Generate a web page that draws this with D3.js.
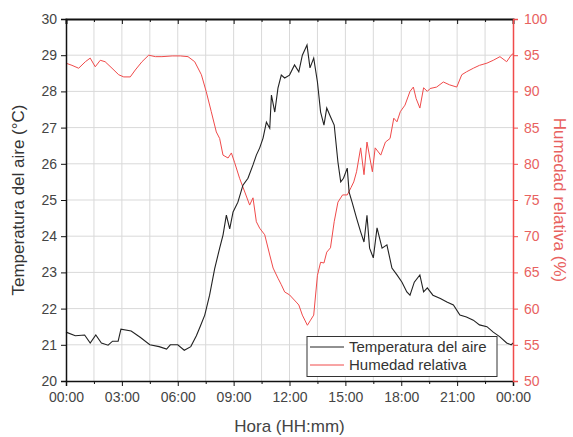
<!DOCTYPE html>
<html><head><meta charset="utf-8">
<script src="https://cdn.jsdelivr.net/npm/d3@7"></script>
<style>body{margin:0;background:#fff;} svg{display:block;font-family:"Liberation Sans",Arial,sans-serif;}</style>
</head><body><svg id="c" width="573" height="437"></svg>
<script>
// Hours since 00:00 and readings
const tempHours = [0,0.5,1.0,1.3,1.6,1.9,2.26,2.5,2.8,2.95,3.5,4.0,4.5,5.0,5.4,5.6,6.0,6.35,6.7,7.0,7.2,7.45,7.71,7.98,8.25,8.43,8.61,8.79,8.97,9.23,9.5,9.77,10.04,10.22,10.4,10.58,10.76,10.94,11.03,11.21,11.38,11.56,11.74,12.0,12.27,12.5,12.69,12.94,13.1,13.3,13.5,13.67,13.85,14.0,14.2,14.4,14.6,14.75,14.9,15.1,15.2,15.36,15.6,15.82,16.0,16.16,16.3,16.5,16.7,16.97,17.23,17.5,17.77,18.04,18.3,18.47,18.7,19.0,19.2,19.4,19.7,20.1,20.45,20.8,21.15,21.5,21.87,22.2,22.6,22.94,23.3,23.66,23.9,24];
const tempValues = [21.35,21.25,21.27,21.05,21.27,21.05,20.99,21.1,21.1,21.43,21.38,21.2,21.0,20.95,20.88,21.0,21.0,20.85,20.95,21.25,21.5,21.82,22.37,23.1,23.67,24.03,24.58,24.2,24.67,24.94,25.41,25.6,25.97,26.24,26.44,26.71,27.15,26.98,27.9,27.43,28.09,28.45,28.37,28.45,28.73,28.54,29.0,29.28,28.65,28.92,28.26,27.43,27.07,27.54,27.3,27.07,26.05,25.5,25.6,25.88,25.22,24.94,24.5,24.12,23.84,24.58,23.67,23.4,24.23,23.67,23.76,23.12,22.93,22.73,22.46,22.37,22.73,22.93,22.46,22.57,22.37,22.28,22.18,22.1,21.82,21.77,21.68,21.55,21.5,21.35,21.22,21.05,21.0,21.05];
const humHours = [0,0.32,0.68,1.04,1.3,1.57,1.84,2.1,2.47,2.83,3.1,3.45,3.72,4.08,4.44,4.8,5.15,5.7,6.14,6.55,6.91,7.27,7.53,7.8,8.07,8.25,8.43,8.7,8.88,9.05,9.32,9.6,9.86,10.04,10.22,10.4,10.67,10.94,11.12,11.38,11.56,11.74,12.0,12.36,12.5,12.69,12.96,13.13,13.3,13.5,13.67,13.85,14.0,14.2,14.4,14.6,14.85,15.1,15.3,15.45,15.6,15.82,16.0,16.16,16.45,16.6,16.9,17.15,17.4,17.6,17.77,17.95,18.2,18.47,18.65,18.8,19.0,19.2,19.4,19.55,19.9,20.26,20.6,20.98,21.25,21.5,21.87,22.2,22.6,22.94,23.3,23.66,23.9,24];
const humValues = [93.9,93.6,93.2,94.1,94.6,93.4,94.3,94.1,93.2,92.3,92.0,92.0,92.96,94.1,95.0,94.8,94.8,94.9,94.9,94.8,94.1,92.3,89.96,87.2,84.4,83.5,81.2,80.8,81.5,80.2,78.0,76.1,74.3,75.3,72.0,71.1,70.2,67.4,65.6,64.2,63.3,62.3,61.9,60.9,60.5,59.1,57.7,58.4,59.1,64.6,66.4,66.3,67.8,68.4,72.0,74.7,75.7,75.7,76.7,77.5,78.9,82.2,78.5,83.0,78.9,82.2,81.2,83.0,83.5,86.3,85.8,87.2,88.1,90.0,90.6,89.0,87.7,90.5,90.0,90.4,90.6,91.3,90.9,90.6,92.3,92.7,93.2,93.6,93.9,94.3,94.8,94.1,95.0,95.2];
const xTickLabels = ["00:00","03:00","06:00","09:00","12:00","15:00","18:00","21:00","00:00"];
const tempTicks = [20,21,22,23,24,25,26,27,28,29,30];
const humTicks = [50,55,60,65,70,75,80,85,90,95,100];
const seriesNames = ["Temperatura del aire","Humedad relativa"];

(function(){
const L=66,R=513,T=19,B=381;
const red="#f04a4a", redText="#e8625f";
const svg=d3.select("#c");
const x=d3.scaleLinear().domain([0,24]).range([L,R]);
const yT=d3.scaleLinear().domain([20,30]).range([B,T]);
const yH=d3.scaleLinear().domain([50,100]).range([B,T]);
const majorX=d3.range(0,25,3), minorX=d3.range(1.5,24,3), allX=d3.range(0,24.01,1.5);

// grid
const g=svg.append("g");
g.selectAll(".vg").data(allX.filter(d=>d>0&&d<24)).join("line")
 .attr("x1",d=>x(d)).attr("x2",d=>x(d)).attr("y1",T).attr("y2",B).attr("stroke","#d9d9d9").attr("stroke-width",1);
g.selectAll(".hg").data(tempTicks.filter(d=>d>20&&d<30)).join("line")
 .attr("x1",L).attr("x2",R).attr("y1",d=>yT(d)).attr("y2",d=>yT(d)).attr("stroke","#d9d9d9").attr("stroke-width",1);

// lines
const lineT=d3.line().x((d,i)=>x(tempHours[i])).y(d=>yT(d));
const lineH=d3.line().x((d,i)=>x(humHours[i])).y(d=>yH(d));
svg.append("path").attr("d",lineH(humValues)).attr("fill","none").attr("stroke",red).attr("stroke-width",1);
svg.append("path").attr("d",lineT(tempValues)).attr("fill","none").attr("stroke","#222").attr("stroke-width",1.1);

// axes
const axB=svg.append("g").attr("transform",`translate(0,${B})`)
 .call(d3.axisBottom(x).tickValues(majorX).tickFormat((d,i)=>xTickLabels[i]).tickSize(5).tickPadding(6));
svg.append("g").attr("transform",`translate(0,${B})`).call(d3.axisBottom(x).tickValues(minorX).tickFormat("").tickSize(3)).select(".domain").remove();
const axTop=svg.append("g").attr("transform",`translate(0,${T})`)
 .call(d3.axisBottom(x).tickValues(majorX).tickFormat("").tickSize(5));
svg.append("g").attr("transform",`translate(0,${T})`).call(d3.axisBottom(x).tickValues(minorX).tickFormat("").tickSize(3)).select(".domain").remove();
axTop.select(".domain").attr("stroke","#111").attr("stroke-width",2);
const axL=svg.append("g").attr("transform",`translate(${L},0)`)
 .call(d3.axisLeft(yT).tickValues(tempTicks).tickFormat(d3.format("d")).tickSize(5).tickPadding(4));
const axR=svg.append("g").attr("transform",`translate(${R},0)`)
 .call(d3.axisRight(yH).tickValues(humTicks).tickFormat(d3.format("d")).tickSize(5).tickPadding(6));
[axB,axL].forEach(a=>{a.select(".domain").attr("stroke","#111").attr("stroke-width",1.5);a.selectAll("text").attr("font-size",14).attr("fill","#444").attr("font-family","Liberation Sans, Arial, sans-serif");});
svg.selectAll(".tick line").attr("stroke","#111");
axR.select(".domain").attr("stroke",red).attr("stroke-width",1.5);
axR.selectAll(".tick line").attr("stroke",red);
axR.selectAll("text").attr("font-size",14).attr("fill",redText).attr("font-family","Liberation Sans, Arial, sans-serif");

// titles
svg.append("text").attr("x",(L+R)/2).attr("y",432).attr("text-anchor","middle").attr("font-size",17).attr("fill","#444").text("Hora (HH:mm)");
svg.append("text").attr("transform",`translate(24,${(T+B)/2}) rotate(-90)`).attr("text-anchor","middle").attr("font-size",17).attr("fill","#333").text("Temperatura del aire (°C)");
svg.append("text").attr("transform",`translate(554,${(T+B)/2}) rotate(90)`).attr("text-anchor","middle").attr("font-size",17).attr("fill",redText).text("Humedad relativa (%)");

// legend
const lg=svg.append("g");
lg.append("rect").attr("x",307).attr("y",336.5).attr("width",190).attr("height",40).attr("fill","#fff").attr("stroke","#333").attr("stroke-width",1);
const colors=["#222",red];
seriesNames.forEach((n,i)=>{
  const yy=347+i*18;
  lg.append("line").attr("x1",310).attr("x2",344).attr("y1",yy).attr("y2",yy).attr("stroke",colors[i]).attr("stroke-width",1);
  lg.append("text").attr("x",349).attr("y",yy+5).attr("font-size",15).attr("fill","#333").text(n);
});
})();
</script></body></html>
